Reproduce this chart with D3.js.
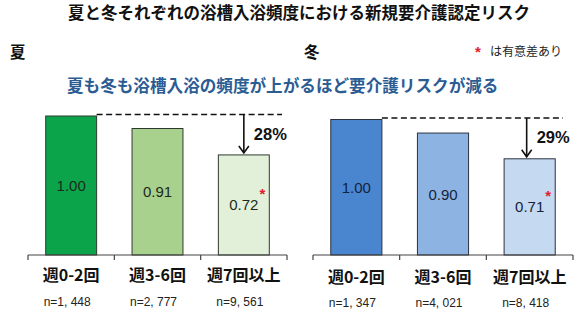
<!DOCTYPE html>
<html><head><meta charset="utf-8">
<script src="https://cdn.jsdelivr.net/npm/d3@7"></script>
<style>
html,body{margin:0;padding:0;background:#fff;}
svg{display:block;}
</style></head>
<body>
<svg id="c" width="582" height="327"></svg>
<script>
const categories = ["週0-2回", "週3-6回", "週7回以上"];
const summerValues = [1.00, 0.91, 0.72];
const winterValues = [1.00, 0.90, 0.71];
const summerN = ["n=1, 448", "n=2, 777", "n=9, 561"];
const winterN = ["n=1, 347", "n=4, 021", "n=8, 418"];
const summerLabels = ["1.00", "0.91", "0.72"];
const winterLabels = ["1.00", "0.90", "0.71"];
const summerReduction = "28%";
const winterReduction = "29%";
const significant = [false, false, true];

const svg = d3.select("#c");
const JP = "'Noto Sans CJK JP','Noto Sans',sans-serif";
const LAT = "'Liberation Sans',Arial,sans-serif";
const NARROW = "'Liberation Sans Narrow','Liberation Sans',Arial,sans-serif";

svg.append("text").attr("x", 299).attr("y", 19).attr("text-anchor", "middle")
  .attr("font-family", JP).attr("font-weight", "bold").attr("font-size", 16.5)
  .attr("fill", "#111").text("夏と冬それぞれの浴槽入浴頻度における新規要介護認定リスク");
svg.append("text").attr("x", 10).attr("y", 58)
  .attr("font-family", JP).attr("font-weight", "bold").attr("font-size", 15.5)
  .attr("fill", "#111").text("夏");
svg.append("text").attr("x", 304).attr("y", 58)
  .attr("font-family", JP).attr("font-weight", "bold").attr("font-size", 15.5)
  .attr("fill", "#111").text("冬");
svg.append("text").attr("x", 478).attr("y", 57).attr("text-anchor", "middle")
  .attr("font-family", LAT).attr("font-weight", "bold").attr("font-size", 15)
  .attr("fill", "#e0202a").text("*");
svg.append("text").attr("x", 490).attr("y", 56)
  .attr("font-family", JP).attr("font-size", 12)
  .attr("fill", "#222").text("は有意差あり");
svg.append("text").attr("x", 67).attr("y", 92)
  .attr("font-family", JP).attr("font-weight", "bold").attr("font-size", 16.6)
  .attr("fill", "#2B5C93").text("夏も冬も浴槽入浴の頻度が上がるほど要介護リスクが減る");

function panel(opt) {
  const g = svg.append("g");
  const x = d3.scaleBand().domain(categories).range([opt.x0, opt.x1])
    .paddingInner(0.41).paddingOuter(0.205);
  const y = d3.scaleLinear().domain([0, 1]).range([255, opt.top]);

  g.selectAll("rect.bar").data(opt.values).join("rect")
    .attr("class", "bar")
    .attr("x", (d, i) => x(categories[i]))
    .attr("y", d => y(d))
    .attr("width", x.bandwidth())
    .attr("height", d => y(0) - y(d))
    .attr("fill", (d, i) => opt.colors[i])
    .attr("stroke", opt.stroke).attr("stroke-width", 1);

  // axis
  const axis = d3.axisBottom(x).tickSize(0).tickFormat("");
  const ag = g.append("g").attr("transform", `translate(0,${y(0)})`).call(axis);
  ag.select(".domain").attr("stroke", "#444").attr("stroke-width", 1.2)
    .attr("d", `M${opt.x0},0H${opt.x1}`);
  ag.selectAll(".tick").remove();
  const bounds = [opt.x0].concat(categories.slice(1).map(c => x(c) - x.step() * x.paddingInner() / 2)).concat([opt.x1]);
  ag.selectAll("line.tk").data(bounds).join("line").attr("class", "tk")
    .attr("x1", d => d).attr("x2", d => d).attr("y1", 0).attr("y2", 5)
    .attr("stroke", "#444").attr("stroke-width", 1.2);

  // value labels
  g.selectAll("text.val").data(opt.values).join("text").attr("class", "val")
    .attr("x", (d, i) => x(categories[i]) + x.bandwidth() / 2)
    .attr("y", d => (y(d) + y(0)) / 2 + 5.5)
    .attr("text-anchor", "middle").attr("font-family", LAT).attr("font-size", 15)
    .attr("fill", opt.textColor)
    .text((d, i) => opt.labels[i]);

  // significance stars
  const sig = opt.values.map((d, i) => ({ d, i })).filter(o => significant[o.i]);
  g.selectAll("text.star").data(sig).join("text").attr("class", "star")
    .attr("x", o => x(categories[o.i]) + x.bandwidth() / 2 + 18.5)
    .attr("y", o => (y(o.d) + y(0)) / 2 - 6)
    .attr("text-anchor", "middle").attr("font-family", LAT).attr("font-weight", "bold")
    .attr("font-size", 15).attr("fill", "#e0202a").text("*");

  // category labels
  g.selectAll("text.cat").data(categories).join("text").attr("class", "cat")
    .attr("x", d => x(d) + x.bandwidth() / 2)
    .attr("y", opt.catY)
    .attr("text-anchor", "middle").attr("font-family", JP).attr("font-weight", "bold")
    .attr("font-size", 16).attr("fill", "#111").text(d => d);
  g.selectAll("text.n").data(opt.n).join("text").attr("class", "n")
    .attr("x", (d, i) => x(categories[i]) + x.bandwidth() / 2 - 4)
    .attr("y", opt.nY)
    .attr("text-anchor", "middle").attr("font-family", NARROW).attr("font-size", 12)
    .attr("fill", "#222").text(d => d);

  // dashed reference line
  const refY = y(opt.values[0]) - 1.5;
  const barRight = x(categories[0]) + x.bandwidth();
  g.append("line").attr("x1", barRight).attr("x2", opt.dashEnd)
    .attr("y1", refY).attr("y2", refY)
    .attr("stroke", "#111").attr("stroke-width", 1.6).attr("stroke-dasharray", "6,3.5");

  // arrow
  const ax = x(categories[2]) + x.bandwidth() / 2 + opt.arrowDx;
  const ayEnd = y(opt.values[2]) - 2;
  g.append("line").attr("x1", ax).attr("x2", ax).attr("y1", refY).attr("y2", ayEnd)
    .attr("stroke", "#111").attr("stroke-width", 1.6);
  g.append("path").attr("d", `M${ax - 5},${ayEnd - 7}L${ax},${ayEnd}L${ax + 5},${ayEnd - 7}`)
    .attr("fill", "none").attr("stroke", "#111").attr("stroke-width", 1.6);

  g.append("text").attr("x", ax + 10).attr("y", (refY + ayEnd) / 2 + 6)
    .attr("font-family", LAT).attr("font-weight", "bold").attr("font-size", 16.5)
    .attr("fill", "#111").text(opt.reduction);
}

panel({
  x0: 28, x1: 287, top: 116, values: summerValues, labels: summerLabels, n: summerN,
  colors: ["#0BA44B", "#A9D18E", "#E2F0D9"], stroke: "#2f3a2f", textColor: "#1c2a1c",
  catY: 281, nY: 306, dashEnd: 282, arrowDx: 0, reduction: summerReduction
});
panel({
  x0: 313, x1: 573, top: 119.5, values: winterValues, labels: winterLabels, n: winterN,
  colors: ["#4A86D0", "#8DB3E2", "#C5D9F1"], stroke: "#2b3340", textColor: "#13233a",
  catY: 283, nY: 307, dashEnd: 563, arrowDx: -3, reduction: winterReduction
});
</script>
</body></html>
